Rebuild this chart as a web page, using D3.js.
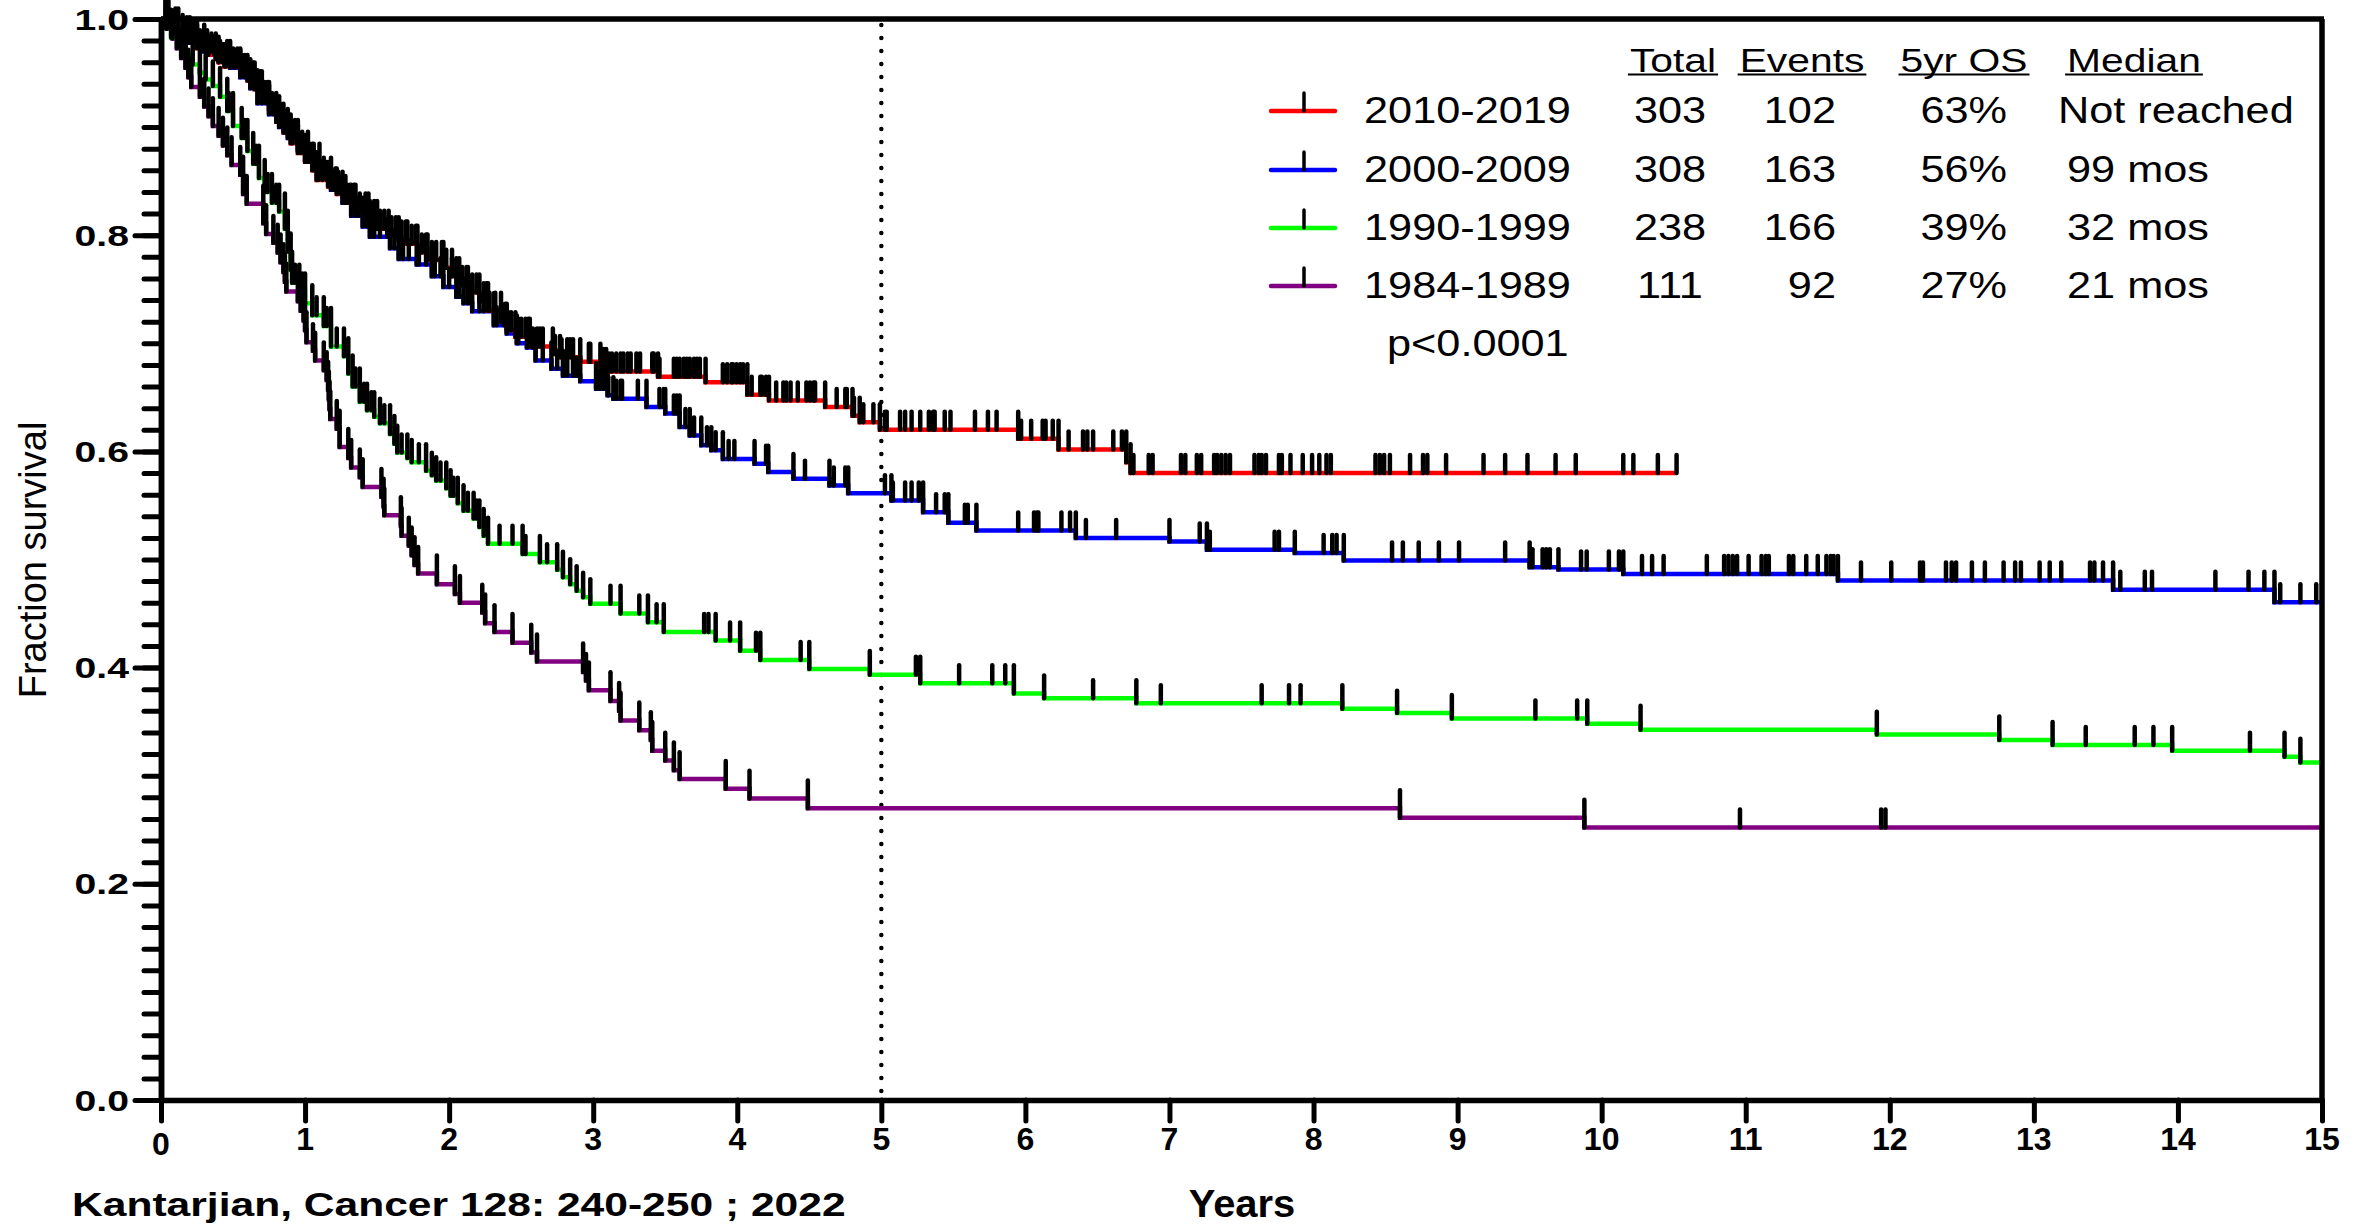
<!DOCTYPE html>
<html>
<head>
<meta charset="utf-8">
<script src="https://cdn.jsdelivr.net/npm/d3@7"></script>
<style>
  html, body { margin: 0; padding: 0; background: #fff; }
  svg { display: block; }
</style>
</head>
<body>
<svg id="chart" width="2372" height="1226"></svg>
<script>
// ---------- data ----------
const xTickValues = [0, 1, 2, 3, 4, 5, 6, 7, 8, 9, 10, 11, 12, 13, 14, 15];
const xTickLabels = ["0", "1", "2", "3", "4", "5", "6", "7", "8", "9", "10", "11", "12", "13", "14", "15"];
const yTickValues = [0, 0.2, 0.4, 0.6, 0.8, 1.0];
const yTickLabels = ["0.0", "0.2", "0.4", "0.6", "0.8", "1.0"];

const groups   = ["2010-2019", "2000-2009", "1990-1999", "1984-1989"];
const totals   = ["303", "308", "238", "111"];
const events   = ["102", "163", "166", "92"];
const os5yr    = ["63%", "56%", "39%", "27%"];
const medians  = ["Not reached", "99 mos", "32 mos", "21 mos"];
const headers  = ["Total", "Events", "5yr OS", "Median"];
const pValue   = "p<0.0001";
const followUp = [10.52, 15, 15, 15];   // last follow-up time (years) per group

// Kaplan-Meier steps: [time in years, survival after the drop]
const steps2010 = [[0.05,0.993],[0.10,0.987],[0.15,0.980],[0.25,0.973],[0.32,0.967],[0.40,0.960],[0.44,0.956],[0.55,0.950],[0.60,0.943],[0.65,0.935],[0.70,0.925],[0.75,0.915],[0.80,0.905],[0.85,0.895],[0.90,0.885],[0.95,0.876],[1.00,0.868],[1.05,0.860],[1.08,0.851],[1.16,0.845],[1.22,0.838],[1.28,0.830],[1.35,0.822],[1.44,0.815],[1.50,0.806],[1.58,0.800],[1.65,0.796],[1.71,0.792],[1.78,0.784],[1.85,0.777],[1.96,0.770],[2.02,0.762],[2.07,0.754],[2.13,0.747],[2.21,0.739],[2.27,0.730],[2.36,0.720],[2.40,0.712],[2.46,0.706],[2.56,0.697],[2.72,0.690],[2.77,0.687],[2.91,0.683],[3.05,0.678],[3.09,0.674],[3.45,0.669],[3.78,0.664],[4.07,0.6525],[4.22,0.647],[4.61,0.641],[4.80,0.633],[4.85,0.627],[4.99,0.620],[5.95,0.6117],[6.23,0.6018],[6.70,0.590],[6.73,0.580]];
const steps2000 = [[0.05,0.993],[0.12,0.985],[0.20,0.978],[0.30,0.970],[0.38,0.963],[0.48,0.955],[0.55,0.946],[0.62,0.936],[0.67,0.922],[0.75,0.912],[0.82,0.900],[0.88,0.890],[0.95,0.879],[1.02,0.868],[1.10,0.855],[1.18,0.842],[1.26,0.830],[1.32,0.818],[1.40,0.808],[1.45,0.7985],[1.59,0.788],[1.65,0.778],[1.775,0.773],[1.88,0.762],[1.96,0.752],[2.05,0.743],[2.10,0.737],[2.16,0.7296],[2.31,0.7167],[2.40,0.709],[2.47,0.700],[2.54,0.696],[2.60,0.684],[2.71,0.6765],[2.79,0.670],[2.91,0.665],[3.02,0.658],[3.10,0.652],[3.14,0.6488],[3.37,0.641],[3.50,0.635],[3.60,0.6225],[3.67,0.6148],[3.75,0.6056],[3.82,0.601],[3.90,0.593],[4.12,0.5886],[4.215,0.581],[4.39,0.5747],[4.64,0.5685],[4.77,0.5614],[5.07,0.5546],[5.29,0.5438],[5.465,0.534],[5.66,0.5269],[6.35,0.520],[7.00,0.5167],[7.26,0.509],[7.87,0.506],[8.21,0.499],[9.50,0.4929],[9.70,0.4907],[10.15,0.4867],[11.64,0.4806],[13.55,0.472],[14.67,0.4605]];
const steps1990 = [[0.03,0.992],[0.07,0.983],[0.12,0.975],[0.17,0.966],[0.22,0.958],[0.27,0.950],[0.31,0.944],[0.36,0.938],[0.41,0.928],[0.46,0.915],[0.50,0.901],[0.56,0.890],[0.60,0.878],[0.64,0.866],[0.68,0.853],[0.72,0.840],[0.77,0.830],[0.82,0.822],[0.86,0.806],[0.88,0.785],[0.90,0.768],[0.91,0.756],[0.96,0.748],[1.00,0.737],[1.05,0.726],[1.13,0.716],[1.18,0.697],[1.27,0.688],[1.30,0.672],[1.33,0.660],[1.38,0.646],[1.43,0.638],[1.48,0.632],[1.52,0.626],[1.59,0.616],[1.62,0.607],[1.64,0.599],[1.71,0.594],[1.74,0.590],[1.84,0.582],[1.88,0.578],[1.91,0.573],[1.98,0.566],[2.01,0.559],[2.06,0.552],[2.10,0.545],[2.17,0.538],[2.21,0.530],[2.24,0.522],[2.27,0.5145],[2.51,0.505],[2.63,0.4975],[2.75,0.4905],[2.79,0.4836],[2.84,0.477],[2.885,0.471],[2.93,0.465],[2.98,0.459],[3.19,0.450],[3.38,0.442],[3.49,0.433],[3.85,0.425],[4.02,0.4157],[4.16,0.407],[4.50,0.3988],[4.92,0.3935],[5.27,0.3855],[5.92,0.376],[6.13,0.3716],[6.77,0.367],[8.20,0.362],[8.58,0.358],[8.96,0.353],[9.90,0.348],[10.27,0.3426],[11.91,0.338],[12.76,0.333],[13.13,0.3284],[13.96,0.323],[14.74,0.3176],[14.85,0.3123]];
const steps1984 = [[0.04,0.991],[0.08,0.982],[0.11,0.973],[0.14,0.964],[0.17,0.955],[0.19,0.946],[0.21,0.937],[0.27,0.928],[0.30,0.919],[0.33,0.910],[0.36,0.901],[0.40,0.892],[0.43,0.883],[0.46,0.874],[0.49,0.865],[0.55,0.856],[0.57,0.838],[0.595,0.829],[0.71,0.811],[0.73,0.801],[0.78,0.793],[0.81,0.784],[0.83,0.775],[0.85,0.766],[0.86,0.757],[0.87,0.748],[0.95,0.739],[0.97,0.730],[0.99,0.721],[1.00,0.712],[1.01,0.701],[1.055,0.693],[1.07,0.684],[1.13,0.675],[1.15,0.666],[1.16,0.657],[1.165,0.648],[1.17,0.639],[1.175,0.630],[1.22,0.621],[1.24,0.604],[1.30,0.594],[1.32,0.585],[1.38,0.576],[1.40,0.567],[1.53,0.558],[1.545,0.549],[1.55,0.541],[1.665,0.531],[1.67,0.522],[1.72,0.513],[1.74,0.504],[1.76,0.495],[1.785,0.487],[1.915,0.477],[2.04,0.468],[2.075,0.460],[2.23,0.451],[2.25,0.441],[2.315,0.433],[2.44,0.423],[2.57,0.414],[2.61,0.4056],[2.93,0.396],[2.95,0.388],[2.97,0.379],[3.12,0.369],[3.18,0.360],[3.19,0.351],[3.32,0.342],[3.40,0.333],[3.41,0.323],[3.50,0.314],[3.56,0.305],[3.60,0.297],[3.92,0.288],[4.085,0.279],[4.49,0.270],[8.60,0.261],[9.88,0.252]];

// censored observations (years)
const censor2010 = [0.16,0.20,0.23,0.27,0.30,0.33,0.37,0.40,0.43,0.45,0.48,0.50,0.53,0.56,0.58,0.61,0.64,0.66,0.69,0.72,0.74,0.77,0.80,0.83,0.86,0.88,0.91,0.94,0.97,1.00,1.03,1.06,1.09,1.12,1.15,1.18,1.21,1.25,1.28,1.31,1.34,1.38,1.42,1.45,1.48,1.52,1.55,1.60,1.63,1.67,1.70,1.74,1.77,1.81,1.84,1.88,1.91,1.95,1.98,2.02,2.05,2.09,2.12,2.16,2.19,2.24,2.26,2.28,2.32,2.365,2.39,2.41,2.43,2.48,2.50,2.53,2.55,2.58,2.61,2.63,2.65,2.735,2.78,2.82,2.84,2.86,2.97,2.98,3.07,3.11,3.13,3.16,3.19,3.21,3.24,3.26,3.30,3.325,3.41,3.42,3.46,3.56,3.58,3.60,3.63,3.65,3.67,3.70,3.72,3.74,3.90,3.93,3.96,3.97,3.995,4.02,4.04,4.10,4.16,4.17,4.20,4.27,4.32,4.34,4.37,4.42,4.48,4.505,4.53,4.54,4.69,4.75,4.76,4.81,4.875,4.945,5.025,5.037,5.13,5.165,5.21,5.27,5.33,5.36,5.37,5.44,5.48,5.65,5.74,5.80,5.97,6.04,6.12,6.14,6.19,6.30,6.40,6.43,6.47,6.61,6.67,6.75,6.856,6.883,7.08,7.11,7.19,7.22,7.31,7.33,7.36,7.39,7.42,7.59,7.62,7.64,7.67,7.76,7.78,7.84,7.925,7.99,8.04,8.09,8.12,8.43,8.46,8.49,8.53,8.67,8.76,8.79,8.92,9.18,9.33,9.485,9.68,9.82,10.15,10.22,10.39,10.52];
const censor2000 = [0.18,0.25,0.31,0.35,0.41,0.46,0.51,0.58,0.64,0.70,0.73,0.78,0.85,0.90,0.93,0.98,1.06,1.13,1.20,1.23,1.29,1.35,1.37,1.43,1.48,1.52,1.57,1.62,1.68,1.72,1.79,1.84,1.90,1.94,2.00,2.07,2.13,2.21,2.24,2.33,2.38,2.48,2.58,2.65,2.75,2.82,2.86,2.885,3.04,3.06,3.08,3.105,3.16,3.19,3.20,3.31,3.46,3.49,3.56,3.58,3.64,3.70,3.79,3.85,3.94,3.98,4.20,4.47,4.67,4.75,5.025,5.08,5.165,5.21,5.26,5.38,5.44,5.58,5.60,5.95,6.06,6.08,6.09,6.25,6.31,6.42,6.63,7.21,7.28,7.73,7.76,8.07,8.13,8.16,8.545,8.62,8.73,8.87,9.01,9.33,9.52,9.59,9.615,9.64,9.857,9.896,10.05,10.12,10.28,10.35,10.43,10.73,10.85,10.88,10.91,10.94,11.02,11.11,11.14,11.16,11.30,11.33,11.42,11.50,11.56,11.59,11.61,11.80,12.01,12.21,12.23,12.39,12.43,12.46,12.57,12.66,12.79,12.87,12.91,13.04,13.11,13.19,13.39,13.42,13.48,13.60,13.77,13.82,14.26,14.49,14.60,14.71,14.85,14.96];
const censor1990 = [0.47,0.58,0.66,0.74,0.80,0.93,0.98,1.08,1.15,1.22,1.35,1.41,1.46,1.55,1.67,1.79,1.94,2.03,2.13,2.19,2.35,2.44,2.53,2.68,3.12,3.32,3.44,3.77,3.80,3.95,4.13,4.44,5.24,5.54,5.77,5.86,6.47,6.94,7.64,7.83,7.91,9.54,9.83,13.36,13.70,13.83,14.50];
const censor1984 = [10.96, 11.94, 11.97];

const stepSets   = [steps2010, steps2000, steps1990, steps1984];
const censorSets = [censor2010, censor2000, censor1990, censor1984];
const colors     = ["#ff0000", "#0000ff", "#00ff00", "#800080"];

// ---------- layout ----------
const FONT = "'Liberation Sans', Arial, Helvetica, sans-serif";
const svg = d3.select("#chart");
const x = d3.scaleLinear().domain([0, 15]).range([161, 2322]);
const y = d3.scaleLinear().domain([0, 1]).range([1100, 19]);
const TICK = 18;   // height of a censor mark above its line

function stext(parent, str, px, py, o) {
  return parent.append("text")
    .attr("transform", `translate(${px},${py}) scale(${o.sx || 1},1)`)
    .attr("text-anchor", o.anchor || "start")
    .attr("font-family", FONT)
    .attr("font-size", o.size)
    .attr("font-weight", o.weight || "normal")
    .attr("fill", "#000")
    .text(str);
}

function survAt(steps, t) {
  let s = 1;
  for (const [ti, si] of steps) { if (ti <= t) s = si; else break; }
  return s;
}

// ---------- 5-year reference line ----------
svg.append("line")
  .attr("x1", x(5)).attr("x2", x(5))
  .attr("y1", y(1) + 6).attr("y2", y(0))
  .attr("stroke", "#000").attr("stroke-width", 4.5)
  .attr("stroke-linecap", "round").attr("stroke-dasharray", "0 13");

// ---------- survival curves ----------
const curveLayer = svg.append("g");
const markLayer = svg.append("g");
const stepLine = d3.line().x(d => x(d[0])).y(d => y(d[1])).curve(d3.curveStepAfter);

for (let k = stepSets.length - 1; k >= 0; k--) {
  const steps = stepSets[k];
  const last = steps[steps.length - 1][1];
  const pts = [[0, 1], ...steps, [followUp[k], last]];
  curveLayer.append("path")
    .attr("d", stepLine(pts))
    .attr("fill", "none")
    .attr("stroke", colors[k])
    .attr("stroke-width", 4.5);
}

for (let k = stepSets.length - 1; k >= 0; k--) {
  const steps = stepSets[k];
  // drops, drawn in black with a mark above
  markLayer.append("g").selectAll("line")
    .data(steps.map((d, i) => [d[0], i ? steps[i - 1][1] : 1, d[1]]))
    .join("line")
    .attr("x1", d => x(d[0])).attr("x2", d => x(d[0]))
    .attr("y1", d => y(d[1]) - TICK).attr("y2", d => y(d[2]))
    .attr("stroke", "#000").attr("stroke-width", 4.5).attr("stroke-linecap", "round");
  // censored observations
  markLayer.append("g").selectAll("line")
    .data(censorSets[k])
    .join("line")
    .attr("x1", d => x(d)).attr("x2", d => x(d))
    .attr("y1", d => y(survAt(steps, d)) - TICK).attr("y2", d => y(survAt(steps, d)))
    .attr("stroke", "#000").attr("stroke-width", 4.5).attr("stroke-linecap", "round");
}

// ---------- axes ----------
function styleAxis(g, w) {
  g.selectAll("path").attr("stroke", "#000").attr("stroke-width", 5.5);
  g.selectAll("line").attr("stroke", "#000").attr("stroke-width", w).attr("stroke-linecap", "round");
  g.selectAll("text").remove();
}

const yMinor = [];
for (let i = 0; i <= 50; i++) yMinor.push(i / 50);
svg.append("g").attr("transform", `translate(${x(0)},0)`)
  .call(d3.axisLeft(y).tickValues(yMinor).tickSize(17).tickSizeOuter(0))
  .call(g => styleAxis(g, 5));
svg.append("g").attr("transform", `translate(${x(0)},0)`)
  .call(d3.axisLeft(y).tickValues(yTickValues).tickSize(26).tickSizeOuter(0))
  .call(g => styleAxis(g, 5));
svg.append("g").attr("transform", `translate(0,${y(0)})`)
  .call(d3.axisBottom(x).tickValues(xTickValues).tickSize(21).tickSizeOuter(0))
  .call(g => styleAxis(g, 5));

// frame: top and right
svg.append("line").attr("x1", x(0)).attr("x2", x(15) + 2).attr("y1", y(1)).attr("y2", y(1))
  .attr("stroke", "#000").attr("stroke-width", 5.5);
svg.append("line").attr("x1", x(15)).attr("x2", x(15)).attr("y1", y(1)).attr("y2", y(0))
  .attr("stroke", "#000").attr("stroke-width", 5.5);

// tick labels
yTickValues.forEach((v, i) => {
  stext(svg, yTickLabels[i], 129, y(v) + 10.5, { size: 29, weight: "bold", anchor: "end", sx: 1.35 });
});
xTickValues.forEach((v, i) => {
  stext(svg, xTickLabels[i], x(v), i === 0 ? 1155 : 1150, { size: 32, weight: "bold", anchor: "middle" });
});

// axis titles and source line
svg.append("text")
  .attr("transform", `translate(46,560) rotate(-90)`)
  .attr("text-anchor", "middle")
  .attr("font-family", FONT).attr("font-size", 38).attr("fill", "#000")
  .text("Fraction survival");
stext(svg, "Years", 1242, 1217, { size: 38, weight: "bold", anchor: "middle", sx: 1.05 });
stext(svg, "Kantarjian, Cancer 128: 240-250 ; 2022", 72, 1216, { size: 33, weight: "bold", sx: 1.29 });

// ---------- legend table ----------
const legend = svg.append("g");
const headerX = [1673, 1802, 1964, 2134];
headers.forEach((h, i) => {
  const t = stext(legend, h, headerX[i], 72, { size: 34, anchor: "middle", sx: 1.2 });
  const w = t.node().getComputedTextLength() * 1.2;
  legend.append("line")
    .attr("x1", headerX[i] - w / 2 - 2).attr("x2", headerX[i] + w / 2 + 2)
    .attr("y1", 74.5).attr("y2", 74.5)
    .attr("stroke", "#000").attr("stroke-width", 2.2);
});

const rowY = [111, 170, 228, 286];
groups.forEach((g, i) => {
  const ly = rowY[i];
  legend.append("line").attr("x1", 1271).attr("x2", 1335).attr("y1", ly).attr("y2", ly)
    .attr("stroke", colors[i]).attr("stroke-width", 4.5).attr("stroke-linecap", "round");
  legend.append("line").attr("x1", 1304).attr("x2", 1304).attr("y1", ly - TICK).attr("y2", ly)
    .attr("stroke", "#000").attr("stroke-width", 3.5).attr("stroke-linecap", "round");
  const by = ly + 12;
  const o = { size: 37, sx: 1.17 };
  stext(legend, g, 1364, by, o);
  stext(legend, totals[i], 1670, by, { ...o, anchor: "middle" });
  stext(legend, events[i], 1836, by, { ...o, anchor: "end" });
  stext(legend, os5yr[i], 2007, by, { ...o, anchor: "end" });
  stext(legend, medians[i], /^\d/.test(medians[i]) ? 2067 : 2058, by, o);
});
stext(legend, pValue, 1387, 356, { size: 37, sx: 1.17 });
</script>
</body>
</html>
